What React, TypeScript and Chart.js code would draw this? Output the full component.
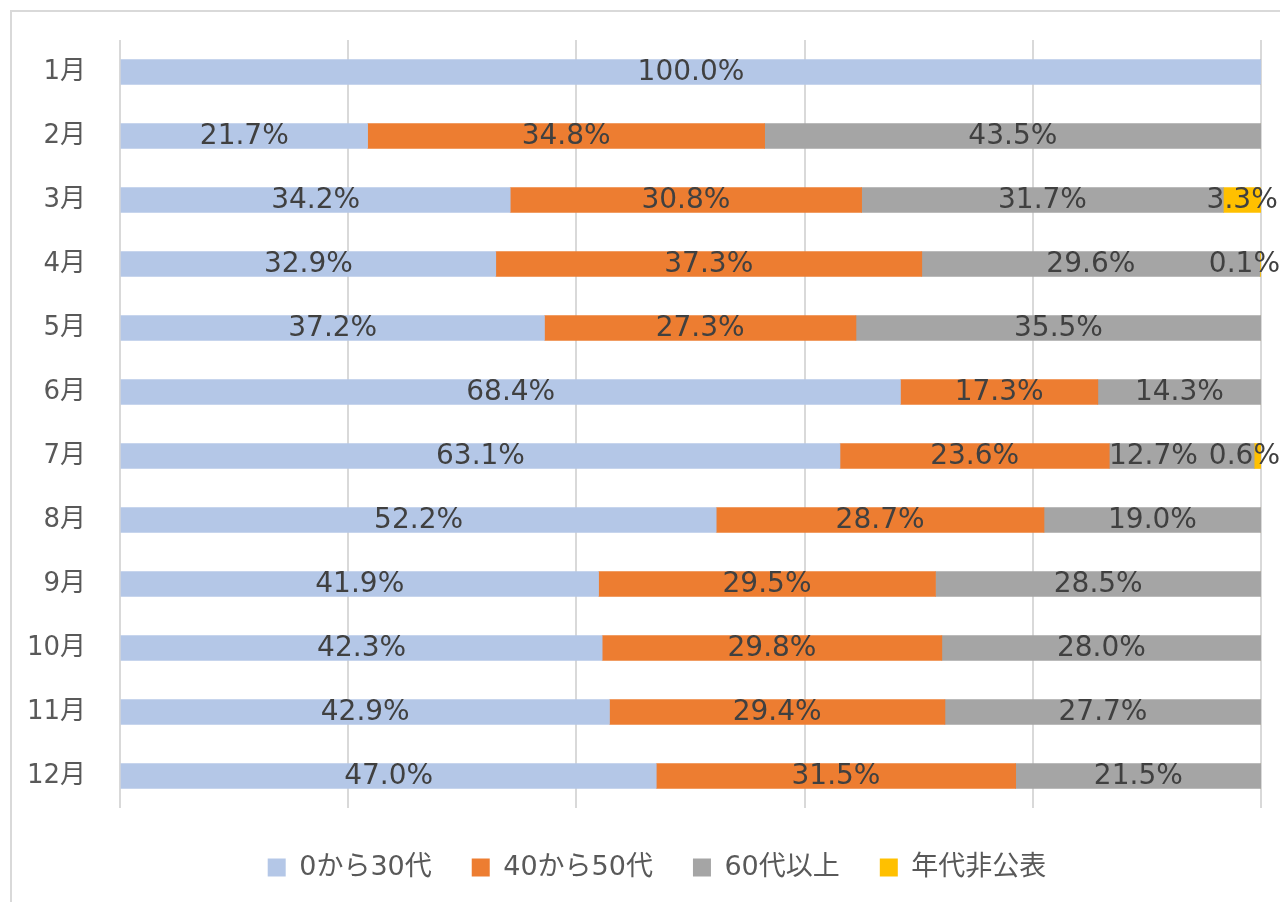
import React, { useEffect, useRef } from "react";
import { Chart, registerables } from "chart.js";

Chart.register(...registerables);

const months = ["1月", "2月", "3月", "4月", "5月", "6月", "7月", "8月", "9月", "10月", "11月", "12月"];
const seriesNames = ["0から30代", "40から50代", "60代以上", "年代非公表"];
const age0to30 = [100.0, 21.7, 34.2, 32.9, 37.2, 68.4, 63.1, 52.2, 41.9, 42.3, 42.9, 47.0];
const age40to50 = [0, 34.8, 30.8, 37.3, 27.3, 17.3, 23.6, 28.7, 29.5, 29.8, 29.4, 31.5];
const age60plus = [0, 43.5, 31.7, 29.6, 35.5, 14.3, 12.7, 19.0, 28.5, 28.0, 27.7, 21.5];
const ageUnknown = [0, 0, 3.3, 0.1, 0, 0, 0.6, 0, 0, 0, 0, 0];
const seriesColors = ["#B4C7E7", "#ED7D31", "#A5A5A5", "#FFC000"];

const allSeries = [age0to30, age40to50, age60plus, ageUnknown];
const totals = months.map((_, i) => allSeries.reduce((s, arr) => s + arr[i], 0));

const FONT_FAMILY = '"DejaVu Sans", "Noto Sans CJK JP", sans-serif';
const LABEL_FONT = "28px " + FONT_FAMILY;
const LABEL_RIGHT_LIMIT = 1268;
const LABEL_GAP = 11;

const dataLabelPlugin = {
  id: "dataLabels",
  afterDatasetsDraw(chart: any) {
    const ctx = chart.ctx;
    ctx.save();
    ctx.font = LABEL_FONT;
    ctx.fillStyle = "#404040";
    ctx.textAlign = "center";
    ctx.textBaseline = "middle";
    const n = chart.data.labels.length;
    for (let j = 0; j < n; j++) {
      const items: { text: string; x: number; y: number; w: number }[] = [];
      chart.data.datasets.forEach((ds: any, di: number) => {
        const raw = ds.rawValues[j];
        if (!raw || raw <= 0) return;
        const el = chart.getDatasetMeta(di).data[j];
        const p = el.getCenterPoint();
        const text = raw.toFixed(1) + "%";
        items.push({ text, x: p.x, y: p.y, w: ctx.measureText(text).width });
      });
      let limit = LABEL_RIGHT_LIMIT;
      for (let k = items.length - 1; k >= 0; k--) {
        const it = items[k];
        if (it.x + it.w / 2 > limit) it.x = limit - it.w / 2;
        limit = it.x - it.w / 2 - LABEL_GAP;
      }
      items.forEach((it) => ctx.fillText(it.text, it.x, it.y + 1));
    }
    ctx.restore();
  },
};

export default function App() {
  const ref = useRef<HTMLCanvasElement>(null);
  useEffect(() => {
    if (!ref.current) return;
    const chart = new Chart(ref.current, {
      type: "bar",
      data: {
        labels: months,
        datasets: allSeries.map((arr, si) => ({
          label: seriesNames[si],
          data: arr.map((v, i) => (v / totals[i]) * 100),
          rawValues: arr,
          backgroundColor: seriesColors[si],
          borderWidth: 0,
          barThickness: 25,
        })) as any,
      },
      options: {
        animation: false,
        responsive: false,
        maintainAspectRatio: false,
        indexAxis: "y",
        layout: { padding: { left: 0, right: 0, top: 28, bottom: 11 } },
        plugins: {
          legend: {
            position: "bottom",
            labels: {
              boxWidth: 18,
              boxHeight: 18,
              padding: 40,
              color: "#595959",
              font: { family: FONT_FAMILY, size: 27 },
            },
          },
          tooltip: { enabled: false },
        },
        scales: {
          x: {
            stacked: true,
            min: 0,
            max: 100,
            ticks: { display: false, stepSize: 20 },
            grid: { color: "#D9D9D9", lineWidth: 2, drawTicks: false },
            border: { display: false },
            afterFit: (s: any) => {
              s.height = 6;
            },
          },
          y: {
            stacked: true,
            grid: { display: false, drawTicks: true, tickLength: 34 },
            border: { display: false },
            ticks: {
              padding: 0,
              color: "#595959",
              font: { family: FONT_FAMILY, size: 26 },
            },
            afterFit: (s: any) => {
              s.width = 108;
            },
          },
          yRight: {
            type: "category",
            position: "right",
            display: true,
            grid: { display: false, drawTicks: false },
            border: { display: false },
            ticks: { display: false },
            afterFit: (s: any) => {
              s.width = 41;
            },
          },
        },
      },
      plugins: [dataLabelPlugin],
    } as any);
    return () => chart.destroy();
  }, []);

  return (
    <div style={{ position: "fixed", left: 0, top: 0, width: 1280, height: 902, overflow: "hidden", background: "#fff" }}>
      <div
        style={{
          position: "absolute",
          left: 10,
          top: 10,
          width: 1340,
          height: 1000,
          border: "2px solid #D9D9D9",
          boxSizing: "border-box",
        }}
      />
      <canvas ref={ref} width={1290} height={890} style={{ position: "absolute", left: 12, top: 12, width: 1290, height: 890 }} />
    </div>
  );
}
